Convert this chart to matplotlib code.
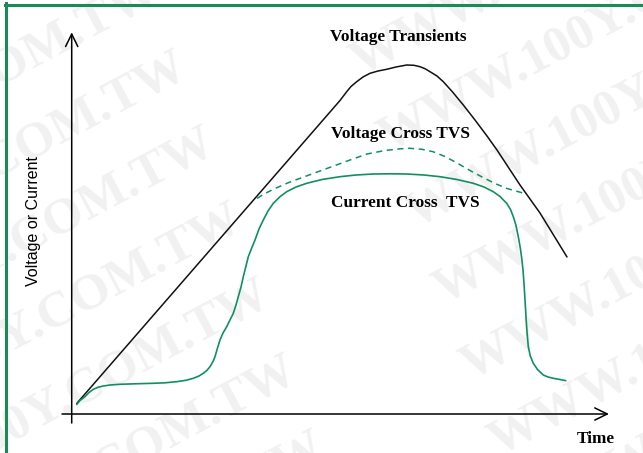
import matplotlib
matplotlib.use("Agg")
import matplotlib.pyplot as plt
from matplotlib.lines import Line2D

# data in plot units (origin at the axes corner, 1 unit ~ 1 px)
vt_time = [4.7, 268, 274.7, 279, 284.7, 291, 298, 306, 314.7, 324, 334.7,
           342, 348, 353, 358, 365, 371.3, 381, 391.3, 403, 415, 425, 448,
           468, 495]
vt_level = [10.5, 313.5, 322.3, 327.5, 332.3, 337, 340.7, 343, 344.7, 347,
            349, 348.7, 347.3, 345.3, 342.3, 338, 332.3, 321.5, 309, 294,
            278, 264, 229, 201, 157]

vc_time = [185, 191, 203, 218, 233, 248, 263, 278, 295, 313, 328, 338, 350,
           361, 373, 385, 398, 411, 423, 435, 452]
vc_level = [215.5, 219.5, 225.5, 232, 237.5, 243, 248.5, 254, 260, 263.5,
            265.2, 265.7, 264.7, 262.3, 257.5, 251, 243.5, 236.5, 230.5,
            225.5, 220.7]

ic_time = [4.7, 8, 13, 17, 21.3, 26, 31.3, 38, 48, 63, 81.3, 93, 104.7, 114,
           121.3, 127, 131.3, 135, 138, 141, 143, 145.5, 148, 151, 154.7, 158,
           161.3, 164, 166.3, 169, 171.3, 174, 176.3, 179.7, 183, 187, 191.3,
           196, 201.3, 208, 214.7, 224, 234.7, 250, 268, 284, 301.3, 318,
           334.7, 352, 368, 385, 401.3, 412, 421.3, 428, 434.7, 438.5, 441.3,
           444, 446.3, 448.3, 449.7, 451, 452, 453, 454, 455, 456.3, 458.3,
           461.3, 465.5, 471.3, 476, 481.3, 488, 493.7]
ic_level = [9.5, 13.5, 17.3, 21.5, 24.7, 26.7, 28, 29, 29.7, 30.2, 30.7, 31.2,
            32.3, 33.7, 35.7, 38, 40.7, 43.7, 47.3, 52.5, 57.3, 66, 74, 81,
            87.3, 94, 100.7, 109, 117.3, 127, 137.3, 148, 157.3, 166, 174, 185,
            194, 203, 210.7, 217.3, 222.3, 227, 230.7, 234.5, 237.3, 239, 240,
            240.2, 240, 239, 237.3, 234.5, 230.7, 227, 222.3, 217.5, 210.7,
            204.5, 197.3, 188.5, 177.3, 166, 156, 144, 130.7, 114, 97.3, 82,
            67.3, 58, 50.7, 44.5, 39, 37, 35.7, 34.5, 33.3]

labels = ["Voltage Transients", "Voltage Cross TVS", "Current Cross  TVS"]
label_pos = [(326, 373.3), (328.5, 275.7), (333.3, 207.3)]
watermark = "WWW.100Y.COM.TW"

GREEN = "#10905f"
W, H = 643, 453
OX, OY = 72, 414


def px(x, y):
    return x - OX, OY - y


fig = plt.figure(figsize=(W / 100, H / 100), dpi=100)
ax = fig.add_axes([0, 0, 1, 1])
ax.set_xlim(-OX, W - OX)
ax.set_ylim(OY - H, OY)
ax.axis("off")

# faint watermark rows
dx, dy = 0.883, -0.469
for k in range(-3, 7):
    sx, sy = 360 + 27.5 * k, 76 + 76 * k
    for m in (-1, 0):
        x0, y0 = sx + m * 670 * dx, sy + m * 670 * dy
        ax.text(*px(x0, y0), watermark, rotation=28, rotation_mode="anchor",
                ha="left", va="baseline", fontsize=37, fontweight="bold",
                family="Liberation Serif", color="#f1f1f1", zorder=0)

line_kw = dict(solid_joinstyle="round", solid_capstyle="round", zorder=3)
ax.plot(vt_time, vt_level, color="#111111", lw=1.1, **line_kw)
ax.plot(vc_time, vc_level, color=GREEN, lw=1.1, ls=(0, (4, 3)), zorder=3)
ax.plot(ic_time, ic_level, color=GREEN, lw=1.2, **line_kw)

# axes with open arrow heads
arrow = dict(arrowstyle="->,head_length=0.45,head_width=0.22", lw=1.1,
             color="black", shrinkA=0, shrinkB=0, mutation_scale=20)
ax.annotate("", xy=(-0.3, 381.7), xytext=(-0.3, -9), arrowprops=arrow)
ax.annotate("", xy=(537, 0), xytext=(-10, 0), arrowprops=arrow)

for txt, (x, y) in zip(labels, label_pos):
    ax.text(x, y, txt, ha="center", va="baseline", fontsize=12.4,
            fontweight="bold", family="Liberation Serif", zorder=4)
ax.text(524, -28.7, "Time", ha="center", va="baseline", fontsize=12.4,
        fontweight="bold", family="Liberation Serif")
ax.text(-38.5, 193.5, "Voltage or Current", rotation=90, ha="center",
        va="center", fontsize=11.5, family="Liberation Sans")

# green frame (left and top edges)
fig.add_artist(Line2D([5.5 / W, 5.5 / W], [0, 1 - 3 / H], color="#1a8a5a",
                      lw=2.2, transform=fig.transFigure))
fig.add_artist(Line2D([4.5 / W, 1], [1 - 4.5 / H, 1 - 4.5 / H],
                      color="#1a8a5a", lw=2.2, transform=fig.transFigure))

fig.savefig("out.png", dpi=100)
